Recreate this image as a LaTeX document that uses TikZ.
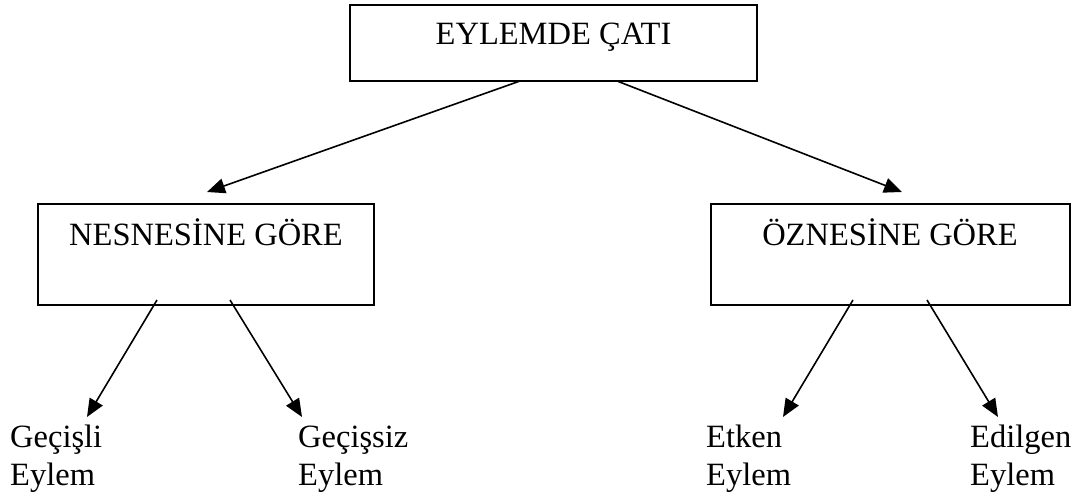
\documentclass[tikz,border=0pt]{standalone}
\usepackage{fontspec}
\setmainfont{Liberation Serif}
\usetikzlibrary{arrows.meta}
\begin{document}
\begin{tikzpicture}[x=1pt,y=-1pt,
  box/.style={draw,line width=2pt,inner sep=0pt},
  lbl/.style={font=\fontsize{32.5}{38}\selectfont,inner sep=0pt,anchor=base},
  leaf/.style={font=\fontsize{32.5}{38}\selectfont,inner sep=0pt,anchor=base west,align=left},
  arr/.style={line width=1.6pt,-{Triangle[length=18pt,width=15pt]}}]
\useasboundingbox (0,0) rectangle (1079,495);
% boxes
\node[box,minimum width=407pt,minimum height=76pt] (top) at (553.5,43) {};
\node[lbl] (toptxt) at (553.5,45) {EYLEMDE ÇATI};
\node[box,minimum width=336pt,minimum height=101pt] (nes) at (206,254.5) {};
\node[lbl] (nestxt) at (206,245) {NESNESİNE GÖRE};
\node[box,minimum width=359pt,minimum height=101pt] (ozn) at (890.5,254.5) {};
\node[lbl] (ozntxt) at (890,245) {ÖZNESİNE GÖRE};
% leaves (base anchor = baseline of last line)
\node[leaf] (gecisli) at (10,485) {Geçişli\\Eylem};
\node[leaf] (gecissiz) at (298,485) {Geçişsiz\\Eylem};
\node[leaf] (etken) at (706,485) {Etken\\Eylem};
\node[leaf] (edilgen) at (970,485) {Edilgen\\Eylem};
% connector ends
\coordinate (t1) at (520,81);
\coordinate (t2) at (617,81);
\coordinate (n0) at (207,192);
\coordinate (o0) at (902,192);
\coordinate (n1) at (157,300);
\coordinate (n2) at (230,300);
\coordinate (o1) at (853,300);
\coordinate (o2) at (927,300);
\coordinate (g1) at (87,417);
\coordinate (g2) at (302,417);
\coordinate (e1) at (783,417);
\coordinate (e2) at (998,417);
% connectors
\draw[arr] (t1) -- (n0);
\draw[arr] (t2) -- (o0);
\draw[arr] (n1) -- (g1);
\draw[arr] (n2) -- (g2);
\draw[arr] (o1) -- (e1);
\draw[arr] (o2) -- (e2);
\end{tikzpicture}
\end{document}
